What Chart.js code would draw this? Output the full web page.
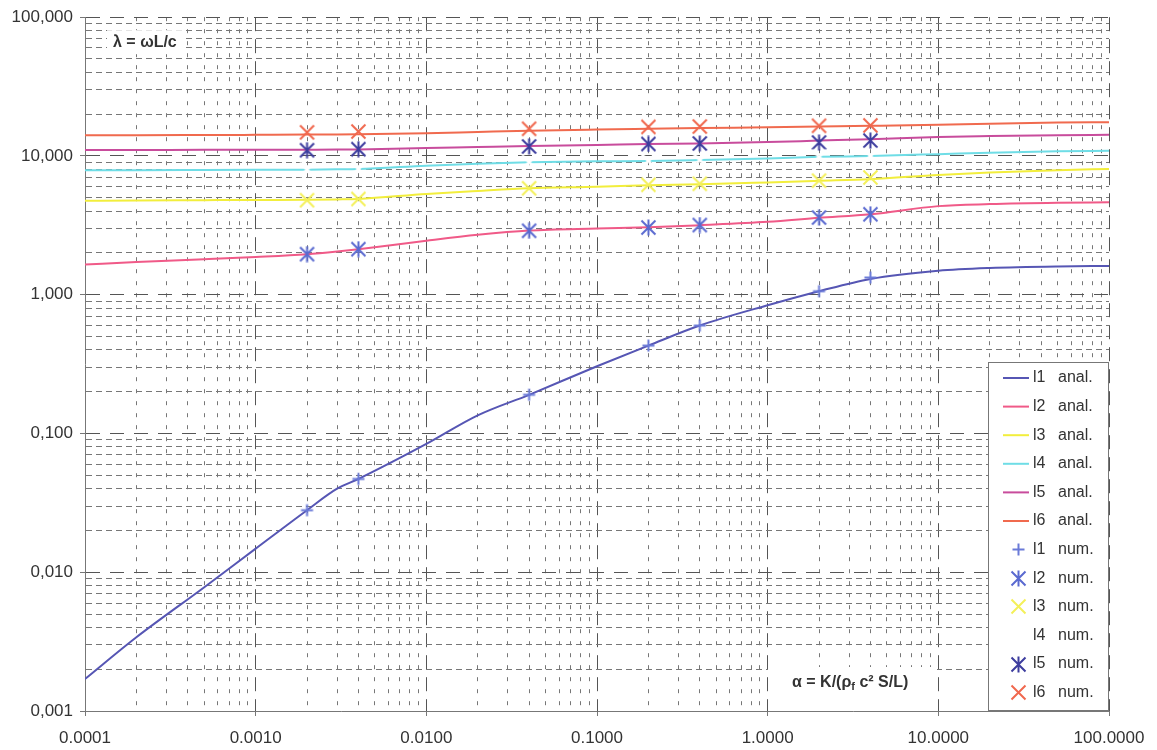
<!DOCTYPE html>
<html>
<head>
<meta charset="utf-8">
<script src="https://cdn.jsdelivr.net/npm/chart.js@4.4.1/dist/chart.umd.min.js"></script>
<style>
  html, body { margin: 0; padding: 0; background: #fff; }
  canvas { display: block; }
</style>
</head>
<body>
<canvas id="chart" width="1157" height="750"></canvas>
<script>
// alpha values where the analytical curves were sampled
const alphaAnal = [0.0001, 0.0002, 0.0005, 0.001, 0.002, 0.003, 0.004, 0.01, 0.02, 0.04, 0.1, 0.2, 0.4, 1, 2, 4, 10, 20, 50, 100];
const l1Anal = [0.0017, 0.0034, 0.0078, 0.0148, 0.028, 0.040, 0.047, 0.084, 0.135, 0.19, 0.305, 0.43, 0.60, 0.84, 1.06, 1.30, 1.49, 1.56, 1.60, 1.61];
const l2Anal = [1.65, 1.72, 1.80, 1.87, 1.96, 2.05, 2.13, 2.45, 2.70, 2.90, 3.00, 3.06, 3.17, 3.35, 3.58, 3.80, 4.35, 4.50, 4.60, 4.63];
const l3Anal = [4.76, 4.77, 4.80, 4.82, 4.83, 4.86, 4.90, 5.33, 5.60, 5.85, 6.00, 6.15, 6.25, 6.45, 6.62, 6.80, 7.30, 7.60, 7.90, 8.07];
const l4Anal = [7.90, 7.90, 7.92, 7.94, 7.97, 8.01, 8.05, 8.50, 8.80, 9.00, 9.15, 9.20, 9.35, 9.60, 9.85, 10.0, 10.3, 10.55, 10.8, 10.9];
const l5Anal = [11.05, 11.05, 11.07, 11.07, 11.1, 11.12, 11.15, 11.4, 11.6, 11.8, 12.0, 12.2, 12.3, 12.6, 12.9, 13.2, 13.7, 13.9, 14.1, 14.2];
const l6Anal = [14.1, 14.1, 14.15, 14.2, 14.25, 14.3, 14.35, 14.6, 14.9, 15.2, 15.5, 15.7, 15.9, 16.1, 16.3, 16.5, 16.8, 17.1, 17.4, 17.5];

// alpha values of the numerical results
const alphaNum = [0.002, 0.004, 0.04, 0.2, 0.4, 2, 4];
const l1Num = [0.028, 0.047, 0.19, 0.43, 0.60, 1.06, 1.33];
const l2Num = [1.96, 2.13, 2.89, 3.05, 3.18, 3.60, 3.80];
const l3Num = [4.80, 4.90, 5.85, 6.20, 6.30, 6.64, 7.00];
const l4Num = [7.97, 8.05, 9.00, 9.20, 9.35, 9.85, 10.0];
const l5Num = [11.0, 11.2, 11.7, 12.2, 12.3, 12.5, 12.9];
const l6Num = [14.8, 15.0, 15.7, 16.2, 16.3, 16.5, 16.6];

const FONT = 'Arial, "Liberation Sans", sans-serif';

function pts(xs, ys) {
    return xs.map((x, i) => ({ x: x, y: ys[i] }));
}

function marker(kind, color, size, width) {
    const c = document.createElement('canvas');
    c.width = size;
    c.height = size;
    const g = c.getContext('2d');
    g.strokeStyle = color;
    g.lineWidth = width;
    const m = 1.5, s = size - 1.5, h = size / 2;
    g.beginPath();
    if (kind === 'plus') {
        g.moveTo(h, m); g.lineTo(h, s);
        g.moveTo(m, h); g.lineTo(s, h);
    } else {
        g.moveTo(m, m); g.lineTo(s, s);
        g.moveTo(s, m); g.lineTo(m, s);
        if (kind === 'star') {
            g.moveTo(h, 0.5); g.lineTo(h, size - 0.5);
        }
    }
    g.stroke();
    return c;
}

function anal(label, ys, color) {
    return {
        label: label, data: pts(alphaAnal, ys), showLine: true, borderColor: color,
        borderWidth: 2, pointRadius: 0, cubicInterpolationMode: 'monotone', order: 2
    };
}
function num(label, ys, style) {
    return { label: label, data: pts(alphaNum, ys), showLine: false, pointStyle: style, pointRadius: 8, order: 1 };
}

function isDecade(v) {
    const l = Math.log10(v);
    return Math.abs(l - Math.round(l)) < 1e-6;
}
function keepIntMantissa(scale) {
    scale.ticks = scale.ticks.filter(t => {
        const m = t.value / Math.pow(10, Math.floor(Math.log10(t.value) + 1e-9));
        return Math.abs(m - Math.round(m)) < 1e-6;
    });
}

const legendBox = {
    id: 'legendBox',
    afterDatasetsDraw(chart) {
        const { ctx, chartArea } = chart;
        const w = 121, h = 349;
        const x0 = chartArea.right - w, y0 = chartArea.bottom - h;
        ctx.save();
        ctx.fillStyle = '#fff';
        ctx.fillRect(x0, y0, w, h);
        ctx.strokeStyle = '#777';
        ctx.lineWidth = 1;
        ctx.strokeRect(x0 + 0.5, y0 + 0.5, w - 1, h - 1);
        ctx.font = '16px ' + FONT;
        ctx.textBaseline = 'middle';
        chart.data.datasets.forEach((ds, i) => {
            const y = y0 + 16 + i * 28.6;
            if (ds.showLine) {
                ctx.strokeStyle = ds.borderColor;
                ctx.lineWidth = 2;
                ctx.beginPath();
                ctx.moveTo(x0 + 15, y);
                ctx.lineTo(x0 + 41, y);
                ctx.stroke();
            } else {
                const img = ds.pointStyle;
                ctx.drawImage(img, Math.round(x0 + 30 - img.width / 2), Math.round(y - img.height / 2));
            }
            const parts = ds.label.split(' ');
            ctx.fillStyle = '#333';
            ctx.fillText(parts[0], x0 + 45, y);
            ctx.fillText(parts[1], x0 + 70, y);
        });
        ctx.restore();
    }
};

const notes = {
    id: 'notes',
    afterDatasetsDraw(chart) {
        const { ctx, chartArea } = chart;
        ctx.save();
        ctx.textBaseline = 'middle';
        ctx.font = 'bold 16px ' + FONT;
        const lam = 'λ = ωL/c';
        const lx = chartArea.left + 28, ly = chartArea.top + 25;
        ctx.fillStyle = '#fff';
        ctx.fillRect(lx - 6, ly - 12, ctx.measureText(lam).width + 12, 24);
        ctx.fillStyle = '#333';
        ctx.fillText(lam, lx, ly);

        const y = chartArea.bottom - 28;
        ctx.fillStyle = '#fff';
        ctx.fillRect(chartArea.left + 683, y - 16, 169, 40);
        ctx.fillStyle = '#333';
        let x = chartArea.left + 707;
        const parts = [['α = K/(ρ', 0, 16], ['f', 4, 11], [' c² S/L)', 0, 16]];
        parts.forEach(p => {
            ctx.font = 'bold ' + p[2] + 'px ' + FONT;
            ctx.fillText(p[0], x, y + p[1]);
            x += ctx.measureText(p[0]).width;
        });
        ctx.restore();
    }
};

const gridColor = ctx => isDecade(ctx.tick.value) ? '#555' : '#777';

new Chart('chart', {
    type: 'scatter',
    data: {
        datasets: [
            anal('l1 anal.', l1Anal, '#5656b4'),
            anal('l2 anal.', l2Anal, '#f05a88'),
            anal('l3 anal.', l3Anal, '#f2ee3c'),
            anal('l4 anal.', l4Anal, '#6fdde6'),
            anal('l5 anal.', l5Anal, '#c84c9c'),
            anal('l6 anal.', l6Anal, '#f06a4e'),
            num('l1 num.', l1Num, marker('plus', '#6a7ad8', 15, 2)),
            num('l2 num.', l2Num, marker('star', '#5a6ad0', 17, 2)),
            num('l3 num.', l3Num, marker('x', '#f4f05a', 17, 2)),
            num('l4 num.', l4Num, marker('x', '#ffffff', 17, 2.5)),
            num('l5 num.', l5Num, marker('star', '#3d3d9e', 17, 2)),
            num('l6 num.', l6Num, marker('x', '#f0684e', 17, 2))
        ]
    },
    options: {
        responsive: false,
        animation: false,
        layout: { padding: { left: 0, right: 48, top: 16, bottom: 0 } },
        plugins: { legend: { display: false }, tooltip: { enabled: false } },
        scales: {
            x: {
                type: 'logarithmic',
                min: 0.0001,
                max: 100,
                afterBuildTicks: keepIntMantissa,
                afterFit: s => { s.height = 39; },
                grid: {
                    color: gridColor,
                    tickLength: 5,
                    tickColor: ctx => isDecade(ctx.tick.value) ? '#777' : 'rgba(0,0,0,0)'
                },
                border: { display: true, color: '#777', dash: ctx => isDecade(ctx.tick.value) ? [14, 8] : [4, 8] },
                ticks: {
                    autoSkip: false,
                    maxRotation: 0,
                    padding: 12,
                    color: '#333',
                    font: { family: FONT, size: 17 },
                    callback: v => isDecade(v) ? v.toFixed(4) : ''
                }
            },
            y: {
                type: 'logarithmic',
                min: 0.001,
                max: 100,
                afterBuildTicks: keepIntMantissa,
                afterFit: s => { s.width = 85; },
                grid: {
                    color: gridColor,
                    tickLength: 5,
                    tickColor: ctx => isDecade(ctx.tick.value) ? '#777' : 'rgba(0,0,0,0)'
                },
                border: { display: true, color: '#777', dash: ctx => isDecade(ctx.tick.value) ? [14, 10] : [6, 4] },
                ticks: {
                    autoSkip: false,
                    padding: 7,
                    color: '#333',
                    font: { family: FONT, size: 17 },
                    callback: v => isDecade(v) ? v.toFixed(3).replace('.', ',') : ''
                }
            }
        }
    },
    plugins: [legendBox, notes]
});
</script>
</body>
</html>
